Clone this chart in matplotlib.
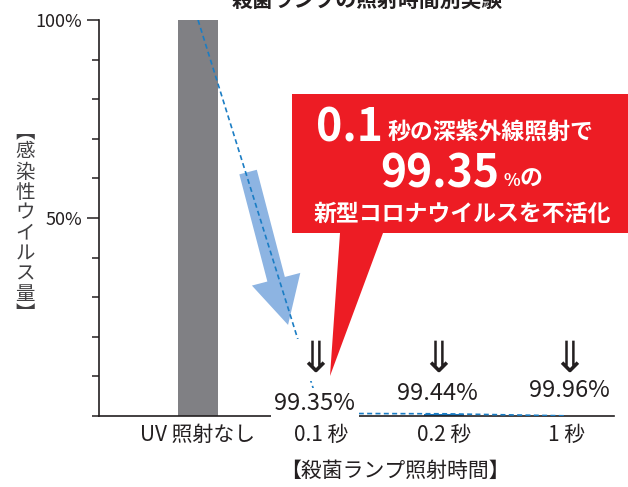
import matplotlib
matplotlib.use("Agg")
import matplotlib.pyplot as plt
import matplotlib.transforms as mtransforms
from matplotlib.patches import Polygon

plt.rcParams["font.family"] = ["Noto Sans CJK JP", "DejaVu Sans"]

# データ
categories = ["UV 照射なし", "0.1 秒", "0.2 秒", "1 秒"]
virus_pct = [100, 0.65, 0.56, 0.04]
bar_colors = ["#808084", "#1b75bc", "#1b75bc", "#1b75bc"]
kill_labels = ["99.35%", "99.44%", "99.96%"]
yticks_major = [50, 100]
yticks_labels = ["50%", "100%"]
yticks_minor = [0, 10, 20, 30, 40, 60, 70, 80, 90]

W, H = 628, 487
DARK = "#231f20"
RED = "#ed1c24"


def px(x, y):
    """ピクセル座標(左上原点) → figure座標"""
    return x / W, 1 - y / H


fig = plt.figure(figsize=(W / 100, H / 100), dpi=100)
ax = fig.add_axes([99 / W, 1 - 416 / H, (614 - 99) / W, (416 - 20) / H])

x = list(range(len(categories)))
ax.bar(x, virus_pct, width=0.33, color=bar_colors, zorder=2)

# 減少の矢印(水色)
ax.annotate(
    "",
    xy=(0.732, 23.0),
    xytext=(0.407, 61.6),
    arrowprops=dict(
        arrowstyle="simple,head_width=1.8,head_length=1.7,tail_width=0.65",
        mutation_scale=20,
        color="#8db4e2",
        lw=0,
        shrinkA=0,
        shrinkB=0,
    ),
    zorder=3,
)

# 点線
ax.plot(x, virus_pct, color="#1b7dc4", lw=1.2, ls=(0, (3, 2)), zorder=4)

ax.set_xlim(-0.805, 3.382)
ax.set_ylim(0, 100)
ax.set_xticks(x)
ax.set_xticklabels(categories, fontsize=15, color=DARK)
ax.tick_params(axis="x", length=0, pad=6)
ax.set_yticks(yticks_major)
ax.set_yticklabels(yticks_labels, fontsize=13, color=DARK)
ax.set_yticks(yticks_minor, minor=True)
ax.tick_params(axis="y", which="major", length=9, width=1.1, color=DARK, pad=3)
ax.tick_params(axis="y", which="minor", length=5, width=1.1, color=DARK)
for s in ["top", "right"]:
    ax.spines[s].set_visible(False)
for s in ["left", "bottom"]:
    ax.spines[s].set_color(DARK)
    ax.spines[s].set_linewidth(1.2)
ax.set_facecolor("none")

# ⇓ と 不活化率
trans = mtransforms.blended_transform_factory(ax.transData, fig.transFigure)
label_y = [410, 400, 397]
label_dx = [-0.05, -0.05, 0.02]
for i, lab in enumerate(kill_labels):
    xi = x[i + 1] + label_dx[i]
    ax.text(xi, px(0, 360)[1], "⇓", transform=trans, ha="center", va="center",
            fontsize=31, color=DARK, zorder=5,
            family=["DejaVu Sans", "Noto Sans CJK JP"],
            bbox=dict(boxstyle="square,pad=0.0", fc="white", ec="none"))
    ax.text(xi, px(0, label_y[i])[1], lab, transform=trans, ha="center",
            va="baseline", fontsize=17, color=DARK, zorder=5,
            bbox=dict(boxstyle="square,pad=0.15", fc="white", ec="none"))

# 吹き出し
callout = [(292, 94), (628, 94), (628, 233), (383, 233), (330, 376),
           (340, 233), (292, 233)]
fig.add_artist(Polygon([px(*p) for p in callout], closed=True,
                       transform=fig.transFigure, fc=RED, ec="none", zorder=10))

wkw = dict(color="white", fontweight="bold", va="baseline", zorder=11)
fig.text(*px(383, 142), "0.1", ha="right", fontsize=32, **wkw)
fig.text(*px(388, 140), "秒の深紫外線照射で", ha="left", fontsize=16.5, **wkw)
fig.text(*px(499, 188), "99.35", ha="right", fontsize=32, **wkw)
fig.text(*px(503, 186), "%", ha="left", fontsize=12.5, **wkw)
fig.text(*px(520, 186), "の", ha="left", fontsize=16.5, **wkw)
fig.text(*px(462, 221), "新型コロナウイルスを不活化", ha="center",
         fontsize=16.5, **wkw)

# 軸ラベル
fig.text(*px(395, 471), "【殺菌ランプ照射時間】", ha="center", va="center",
         fontsize=15, color=DARK)
fig.text(*px(25, 223), "\n".join("︻感染性ウイルス量︼"), ha="center",
         va="center", fontsize=14, color="#414042", linespacing=0.96)

# 上端で切れているタイトル
fig.text(*px(367, 7), "殺菌ランプの照射時間別実験", ha="center",
         va="baseline", fontsize=15, fontweight="bold", color=DARK)

fig.savefig("out.png", dpi=100)
